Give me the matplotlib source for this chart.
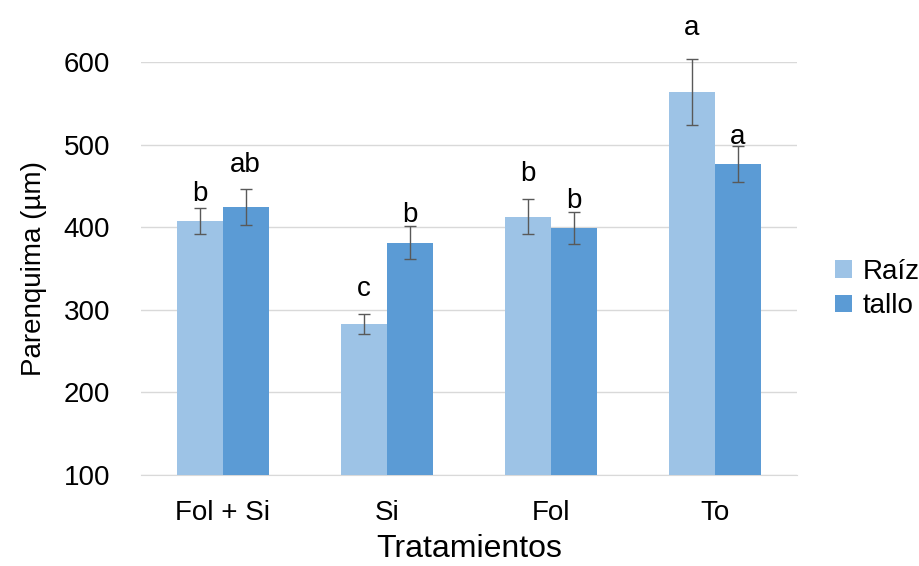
import matplotlib.pyplot as plt
import numpy as np

# Data
tratamientos = ["Fol + Si", "Si", "Fol", "To"]
raiz = [408, 283, 413, 564]
raiz_err = [16, 12, 21, 40]
tallo = [425, 381, 399, 477]
tallo_err = [22, 20, 19, 22]
raiz_letras = ["b", "c", "b", "a"]
tallo_letras = ["ab", "b", "b", "a"]
# heights where the significance letters sit (data units)
raiz_letra_y = [440, 325, 464, 641]
tallo_letra_y = [475, 415, 432, 510]

plt.rcParams["font.family"] = ["Liberation Sans", "DejaVu Sans"]

fig = plt.figure(figsize=(9.19, 5.66), dpi=100)
ax = fig.add_axes([0.153, 0.161, 0.714, 0.729])

x = np.arange(len(tratamientos))
w = 0.28
err_kw = dict(ecolor="#595959", elinewidth=1, capsize=4, capthick=1)

b1 = ax.bar(x - w / 2, raiz, w, yerr=raiz_err, color="#9DC3E6",
            label="Raíz", error_kw=err_kw, zorder=3)
b2 = ax.bar(x + w / 2, tallo, w, yerr=tallo_err, color="#5B9BD5",
            label="tallo", error_kw=err_kw, zorder=3)

# let the error bars go past the top of the axes
for cont in (b1, b2):
    _, caps, cols = cont.errorbar.lines
    for c in caps:
        c.set_clip_on(False)
    for c in cols:
        c.set_clip_on(False)

for xi, txt, yy in zip(x - w / 2, raiz_letras, raiz_letra_y):
    ax.text(xi, yy, txt, ha="center", va="center", fontsize=20, clip_on=False)
for xi, txt, yy in zip(x + w / 2, tallo_letras, tallo_letra_y):
    ax.text(xi, yy, txt, ha="center", va="center", fontsize=20, clip_on=False)

ax.set_xlim(-0.5, len(tratamientos) - 0.5)
ax.set_ylim(100, 600)
ax.set_yticks([100, 200, 300, 400, 500, 600])
ax.set_xticks(x)
ax.set_xticklabels(tratamientos)
ax.tick_params(axis="both", length=0, labelsize=20, colors="#000000")
ax.tick_params(axis="y", pad=22)
ax.tick_params(axis="x", pad=18)
ax.grid(axis="y", color="#D9D9D9", linewidth=1, zorder=0)
for s in ["top", "right", "left"]:
    ax.spines[s].set_visible(False)
ax.spines["bottom"].set_color("#D9D9D9")

ax.set_xlabel("Tratamientos", fontsize=23, labelpad=6)
ax.set_ylabel("Parenquima (µm)", fontsize=20, labelpad=12)

ax.legend(loc="center left", bbox_to_anchor=(1.02, 0.45), frameon=False,
          fontsize=20, handlelength=0.6, handleheight=0.6, handletextpad=0.4,
          labelspacing=0.3, borderaxespad=0.5)

fig.savefig("out.png", dpi=100)
